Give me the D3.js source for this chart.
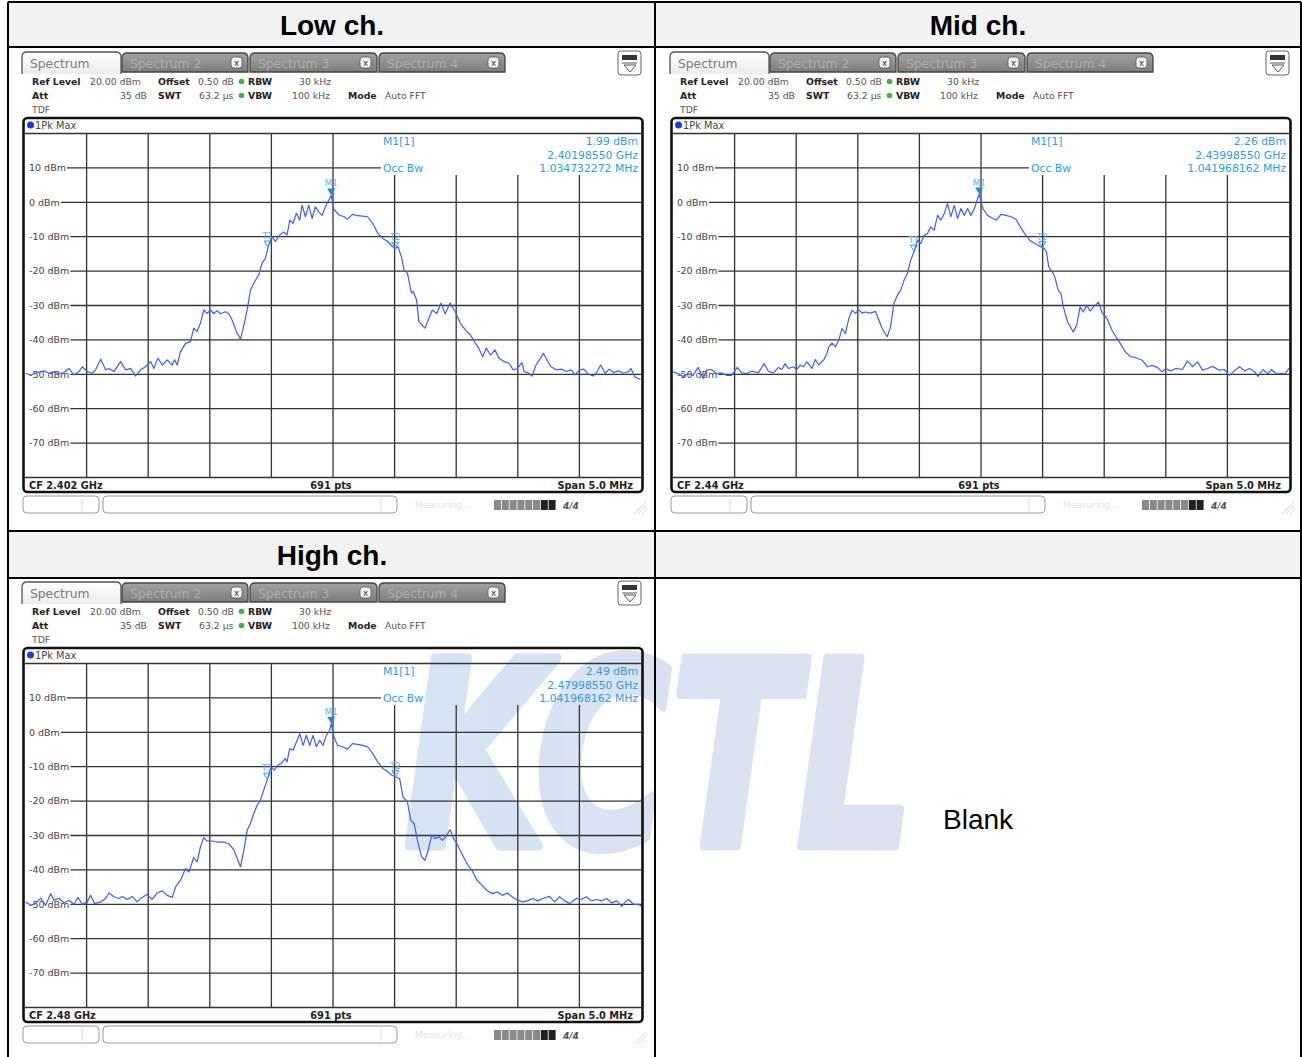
<!DOCTYPE html>
<html>
<head>
<meta charset="utf-8">
<script src="https://cdn.jsdelivr.net/npm/d3@7"></script>
<style>
  html, body { margin: 0; padding: 0; background: #fff; }
  svg { display: block; }
</style>
</head>
<body>
<svg id="chart" width="1302" height="1057"></svg>
<script>
// ---- data ----
var channels = ["Low ch.", "Mid ch.", "High ch."];
var centerLabels = ["CF 2.402 GHz", "CF 2.44 GHz", "CF 2.48 GHz"];
var m1Levels = ["1.99 dBm", "2.26 dBm", "2.49 dBm"];
var m1Freqs = ["2.40198550 GHz", "2.43998550 GHz", "2.47998550 GHz"];
var occBws = ["1.034732272 MHz", "1.041968162 MHz", "1.041968162 MHz"];
// [offset from CF in MHz, level in dBm]
var m1Markers = [[-0.0145, 1.99], [-0.0145, 2.26], [-0.0145, 2.49]];
var t1Markers = [[-0.53, -13.0], [-0.545, -14.2], [-0.535, -13.6]];
var t2Markers = [[0.505, -13.4], [0.497, -13.2], [0.507, -12.9]];
var levelTicks = [10, 0, -10, -20, -30, -40, -50, -60, -70];
var freqDivs = [-2, -1.5, -1, -0.5, 0, 0.5, 1, 1.5, 2];
var tabNames = ["Spectrum", "Spectrum 2", "Spectrum 3", "Spectrum 4"];

var lowTrace = [
  [-2.495,-49.7],[-2.454,-50.2],[-2.400,-49.5],[-2.346,-49.0],[-2.305,-49.7],[-2.265,-49.3],[-2.224,-49.9],
  [-2.184,-49.5],[-2.143,-48.3],[-2.103,-50.2],[-2.062,-49.2],[-2.035,-47.8],[-1.995,-49.2],[-1.954,-49.7],
  [-1.927,-48.7],[-1.886,-45.6],[-1.846,-48.7],[-1.819,-48.3],[-1.778,-49.2],[-1.724,-46.3],[-1.684,-48.7],
  [-1.643,-48.3],[-1.603,-50.5],[-1.562,-48.7],[-1.522,-47.8],[-1.481,-46.3],[-1.454,-48.3],[-1.422,-45.3],
  [-1.386,-47.3],[-1.346,-45.8],[-1.305,-47.3],[-1.286,-45.8],[-1.265,-47.3],[-1.238,-43.4],[-1.197,-41.0],
  [-1.157,-40.5],[-1.130,-36.6],[-1.103,-37.6],[-1.076,-35.1],[-1.049,-31.3],[-1.022,-32.3],[-0.995,-31.3],
  [-0.968,-32.4],[-0.941,-31.5],[-0.914,-32.4],[-0.873,-31.8],[-0.846,-32.4],[-0.819,-34.2],[-0.784,-37.6],
  [-0.751,-39.8],[-0.719,-35.1],[-0.692,-30.3],[-0.670,-25.5],[-0.643,-23.5],[-0.603,-21.1],[-0.576,-17.7],
  [-0.549,-16.3],[-0.522,-12.4],[-0.495,-10.0],[-0.468,-11.4],[-0.432,-9.5],[-0.400,-8.6],[-0.373,-9.5],
  [-0.351,-5.2],[-0.324,-6.1],[-0.297,-3.2],[-0.270,-5.2],[-0.251,-0.8],[-0.224,-4.2],[-0.197,-0.8],
  [-0.170,-4.7],[-0.143,-1.3],[-0.116,-2.8],[-0.089,-3.8],[-0.062,-1.3],[-0.035,0.6],[-0.0145,1.99],
  [0.008,-2.1],[0.049,-3.7],[0.090,-4.2],[0.117,-4.9],[0.158,-3.5],[0.199,-3.9],[0.240,-4.0],[0.281,-4.2],
  [0.322,-6.1],[0.363,-9.0],[0.404,-10.5],[0.445,-11.4],[0.478,-12.7],[0.505,-13.4],[0.527,-12.9],
  [0.555,-15.8],[0.577,-19.7],[0.604,-20.6],[0.637,-26.4],[0.650,-25.9],[0.678,-28.3],[0.697,-34.7],
  [0.746,-36.6],[0.773,-34.2],[0.806,-31.3],[0.842,-32.3],[0.877,-29.3],[0.910,-32.4],[0.951,-29.3],
  [0.992,-31.8],[1.033,-35.1],[1.074,-37.1],[1.115,-38.5],[1.156,-41.0],[1.183,-42.4],[1.216,-44.9],
  [1.243,-42.4],[1.279,-44.4],[1.314,-42.9],[1.347,-45.3],[1.388,-46.3],[1.429,-46.8],[1.462,-48.7],
  [1.497,-48.3],[1.533,-46.6],[1.552,-49.2],[1.579,-49.5],[1.615,-50.5],[1.648,-47.3],[1.675,-45.8],
  [1.708,-43.9],[1.743,-46.3],[1.770,-47.8],[1.811,-48.7],[1.852,-48.5],[1.893,-49.2],[1.934,-48.7],
  [1.962,-50.2],[2.003,-48.7],[2.036,-48.5],[2.071,-49.9],[2.112,-50.5],[2.145,-49.2],[2.172,-47.3],
  [2.208,-49.7],[2.243,-48.5],[2.276,-49.5],[2.317,-49.0],[2.358,-49.7],[2.399,-49.2],[2.418,-48.3],
  [2.454,-50.9],[2.495,-51.5]
];

var midTrace = [
  [-2.500,-49.3],[-2.459,-49.8],[-2.418,-50.6],[-2.378,-49.8],[-2.337,-50.3],[-2.296,-48.0],[-2.255,-51.2],
  [-2.228,-48.8],[-2.188,-48.6],[-2.147,-49.8],[-2.106,-49.6],[-2.065,-50.3],[-2.024,-50.3],[-1.978,-48.0],
  [-1.943,-49.6],[-1.902,-49.8],[-1.861,-49.1],[-1.807,-49.6],[-1.761,-46.9],[-1.726,-49.1],[-1.685,-49.6],
  [-1.644,-48.0],[-1.617,-48.6],[-1.590,-46.9],[-1.563,-48.3],[-1.522,-47.8],[-1.495,-48.6],[-1.467,-47.3],
  [-1.440,-47.8],[-1.413,-46.4],[-1.372,-48.3],[-1.345,-45.7],[-1.318,-47.3],[-1.277,-45.8],[-1.250,-44.0],
  [-1.236,-42.0],[-1.209,-40.9],[-1.182,-42.0],[-1.155,-40.1],[-1.128,-36.7],[-1.101,-38.2],[-1.073,-33.8],
  [-1.046,-31.4],[-1.019,-32.3],[-0.992,-31.2],[-0.965,-32.2],[-0.938,-31.9],[-0.897,-32.2],[-0.856,-31.7],
  [-0.829,-34.3],[-0.802,-36.7],[-0.761,-39.1],[-0.734,-36.2],[-0.707,-29.4],[-0.679,-27.0],[-0.652,-25.6],
  [-0.625,-22.7],[-0.598,-20.7],[-0.571,-16.8],[-0.543,-14.4],[-0.516,-11.0],[-0.489,-12.0],[-0.462,-9.6],
  [-0.435,-9.1],[-0.408,-7.2],[-0.380,-8.1],[-0.353,-3.8],[-0.326,-5.2],[-0.299,-3.3],[-0.272,-0.4],
  [-0.245,-4.2],[-0.217,-0.9],[-0.190,-4.7],[-0.163,-1.8],[-0.136,-3.8],[-0.109,-1.8],[-0.082,-3.8],
  [-0.054,-1.8],[-0.027,1.1],[-0.0145,2.26],[0.014,-1.8],[0.054,-3.8],[0.095,-4.7],[0.123,-5.2],
  [0.163,-3.5],[0.204,-3.8],[0.245,-4.2],[0.286,-5.0],[0.313,-6.7],[0.354,-9.1],[0.395,-11.0],[0.436,-12.0],
  [0.477,-12.8],[0.512,-13.4],[0.531,-14.4],[0.550,-18.8],[0.578,-20.2],[0.599,-21.7],[0.627,-25.6],
  [0.649,-26.5],[0.668,-30.4],[0.703,-34.8],[0.749,-37.7],[0.777,-35.7],[0.804,-30.4],[0.831,-31.9],
  [0.858,-29.9],[0.886,-31.6],[0.913,-30.4],[0.954,-29.0],[0.981,-31.9],[1.022,-33.8],[1.063,-37.2],
  [1.095,-39.1],[1.131,-41.1],[1.172,-43.5],[1.213,-44.9],[1.253,-45.1],[1.308,-45.9],[1.349,-47.8],
  [1.390,-47.4],[1.431,-48.0],[1.471,-49.3],[1.499,-48.3],[1.540,-49.0],[1.580,-48.3],[1.635,-48.6],
  [1.676,-46.1],[1.717,-47.8],[1.757,-46.4],[1.798,-48.8],[1.839,-48.3],[1.880,-47.7],[1.935,-48.8],
  [1.975,-48.6],[2.016,-50.3],[2.057,-49.0],[2.098,-47.8],[2.139,-49.0],[2.180,-48.3],[2.221,-49.3],
  [2.248,-50.6],[2.289,-48.6],[2.330,-49.9],[2.357,-48.6],[2.398,-49.9],[2.439,-49.7],[2.466,-49.9],
  [2.500,-48.3]
];

var highTrace = [
  [-2.495,-49.3],[-2.454,-50.3],[-2.414,-49.8],[-2.373,-48.3],[-2.332,-50.3],[-2.292,-46.9],[-2.265,-48.8],
  [-2.224,-48.3],[-2.184,-49.6],[-2.143,-48.8],[-2.103,-50.0],[-2.070,-48.0],[-2.035,-50.0],[-1.995,-49.3],
  [-1.968,-47.4],[-1.935,-49.8],[-1.886,-49.3],[-1.846,-48.3],[-1.819,-46.7],[-1.778,-47.8],[-1.738,-48.3],
  [-1.711,-47.7],[-1.670,-48.6],[-1.630,-47.7],[-1.589,-49.3],[-1.562,-48.3],[-1.508,-47.1],[-1.468,-48.6],
  [-1.427,-46.7],[-1.386,-46.1],[-1.346,-47.4],[-1.305,-48.0],[-1.278,-45.0],[-1.238,-43.0],[-1.197,-39.6],
  [-1.170,-40.6],[-1.130,-36.4],[-1.103,-37.7],[-1.076,-33.3],[-1.049,-30.6],[-1.022,-31.6],[-0.981,-31.6],
  [-0.941,-31.9],[-0.886,-31.9],[-0.846,-32.4],[-0.805,-34.1],[-0.778,-36.7],[-0.751,-39.1],[-0.724,-34.3],
  [-0.697,-28.5],[-0.670,-26.5],[-0.643,-23.6],[-0.616,-21.2],[-0.589,-19.7],[-0.562,-16.8],[-0.530,-13.4],
  [-0.503,-10.1],[-0.476,-11.0],[-0.449,-9.6],[-0.422,-9.1],[-0.386,-7.6],[-0.373,-8.6],[-0.351,-4.7],
  [-0.324,-5.2],[-0.297,-2.8],[-0.270,-0.4],[-0.243,-3.8],[-0.216,-0.9],[-0.189,-3.8],[-0.162,-0.9],
  [-0.135,-4.2],[-0.108,-2.3],[-0.081,-3.8],[-0.054,-0.9],[-0.027,0.6],[-0.0145,2.49],[0.008,-1.3],
  [0.036,-3.8],[0.077,-4.2],[0.117,-4.9],[0.158,-3.3],[0.199,-3.5],[0.240,-3.8],[0.281,-4.2],[0.322,-6.2],
  [0.363,-8.6],[0.404,-10.5],[0.445,-11.5],[0.478,-12.5],[0.514,-13.0],[0.541,-13.5],[0.568,-18.8],
  [0.604,-20.2],[0.631,-25.6],[0.658,-26.5],[0.691,-32.3],[0.719,-36.2],[0.746,-37.2],[0.773,-34.3],
  [0.801,-29.9],[0.828,-30.9],[0.861,-30.4],[0.888,-31.4],[0.915,-30.4],[0.951,-28.3],[0.978,-30.9],
  [1.005,-32.3],[1.046,-35.3],[1.087,-38.2],[1.128,-40.1],[1.169,-43.0],[1.210,-44.5],[1.251,-46.0],
  [1.292,-46.9],[1.333,-46.4],[1.374,-47.4],[1.415,-46.7],[1.456,-47.9],[1.497,-48.8],[1.538,-49.3],
  [1.579,-49.0],[1.620,-48.3],[1.661,-49.0],[1.702,-48.3],[1.757,-47.7],[1.798,-49.3],[1.839,-47.8],
  [1.880,-49.0],[1.921,-49.8],[1.975,-48.3],[2.016,-48.6],[2.057,-47.8],[2.098,-49.0],[2.139,-48.6],
  [2.180,-49.0],[2.221,-48.3],[2.262,-49.6],[2.303,-49.0],[2.344,-50.6],[2.372,-49.3],[2.399,-48.6],
  [2.440,-50.0],[2.481,-50.0],[2.500,-50.6]
];

var traces = [lowTrace, midTrace, highTrace];

// ---- layout ----
var svg = d3.select("#chart");
var uiFont = "'DejaVu Sans', sans-serif";
var docFont = "'Liberation Sans', Arial, sans-serif";
var panelOffsets = [[0, 0], [648, 0], [0, 530]];
var headerPos = [[332, 35], [978, 35], [332, 565]];
var markerBlue = "#2a9fdc";

var defs = svg.append("defs");

var activeGrad = defs.append("linearGradient").attr("id", "tabActive")
  .attr("x1", 0).attr("y1", 0).attr("x2", 0).attr("y2", 1);
activeGrad.append("stop").attr("offset", "0%").attr("stop-color", "#ffffff");
activeGrad.append("stop").attr("offset", "100%").attr("stop-color", "#ececec");

var idleGrad = defs.append("linearGradient").attr("id", "tabIdle")
  .attr("x1", 0).attr("y1", 0).attr("x2", 0).attr("y2", 1);
idleGrad.append("stop").attr("offset", "0%").attr("stop-color", "#a2a2a2");
idleGrad.append("stop").attr("offset", "100%").attr("stop-color", "#7c7c7c");

var markGrad = defs.append("linearGradient").attr("id", "markGrad")
  .attr("gradientUnits", "userSpaceOnUse")
  .attr("x1", 398).attr("y1", 0).attr("x2", 922).attr("y2", 0);
markGrad.append("stop").attr("offset", "0%").attr("stop-color", "rgb(110,160,214)");
markGrad.append("stop").attr("offset", "100%").attr("stop-color", "rgb(140,150,200)");

defs.append("clipPath").attr("id", "gridClip")
  .append("rect").attr("x", 25).attr("y", 134).attr("width", 616).attr("height", 343);

// header cells
[[2, 47], [531, 578]].forEach(function (r) {
  svg.append("rect")
    .attr("x", 8).attr("y", r[0])
    .attr("width", 1293).attr("height", r[1] - r[0])
    .attr("fill", "#f2f2f2")
})

// watermark sits under everything else
svg.append("text")
  .attr("x", 404).attr("y", 846)
  .attr("font-family", uiFont)
  .attr("font-weight", "bold")
  .attr("font-style", "italic")
  .attr("font-size", 258)
  .attr("textLength", 510)
  .attr("lengthAdjust", "spacingAndGlyphs")
  .attr("fill", "url(#markGrad)")
  .attr("stroke", "url(#markGrad)")
  .attr("stroke-width", 9)
  .attr("stroke-linejoin", "round")
  .attr("opacity", 0.28)
  .text("KCTL")

channels.forEach(function (name, i) {
  svg.append("text")
    .attr("x", headerPos[i][0]).attr("y", headerPos[i][1])
    .attr("text-anchor", "middle")
    .attr("font-family", docFont)
    .attr("font-weight", "bold")
    .attr("font-size", 28)
    .attr("fill", "#000")
    .text(name)
})

svg.append("text")
  .attr("x", 943).attr("y", 829)
  .attr("font-family", docFont)
  .attr("font-size", 28)
  .attr("fill", "#000")
  .text("Blank")

function tabPath(x0, x1, y0, y1, r, closed) {
  var p = "M" + x0 + "," + y1 + " L" + x0 + "," + (y0 + r) +
    " Q" + x0 + "," + y0 + " " + (x0 + r) + "," + y0 +
    " L" + (x1 - r) + "," + y0 +
    " Q" + x1 + "," + y0 + " " + x1 + "," + (y0 + r) +
    " L" + x1 + "," + y1
  return closed ? p + " Z" : p
}

function drawAnalyzer(i) {
  var g = svg.append("g")
    .attr("transform", "translate(" + panelOffsets[i][0] + "," + panelOffsets[i][1] + ")")
    .attr("font-family", uiFont)

  var x = d3.scaleLinear().domain([-2.5, 2.5]).range([25, 641]);
  var y = d3.scaleLinear().domain([-80, 20]).range([477.5, 133.5]);

  // tabs
  var tabX = [[22, 121], [122, 248], [250, 377], [379, 505]];
  tabNames.forEach(function (name, k) {
    var t = tabX[k];
    if (k === 0) {
      g.append("path").attr("d", tabPath(t[0], t[1], 52, 74, 5, false))
        .attr("fill", "url(#tabActive)").attr("stroke", "#555").attr("stroke-width", 1.3)
    } else {
      g.append("path").attr("d", tabPath(t[0], t[1], 53, 72, 5, true))
        .attr("fill", "url(#tabIdle)").attr("stroke", "#444").attr("stroke-width", 1.3)
      g.append("rect")
        .attr("x", t[1] - 17).attr("y", 57).attr("width", 11).attr("height", 11).attr("rx", 3)
        .attr("fill", "#f4f4f4").attr("stroke", "#555").attr("stroke-width", 0.8)
      g.append("text")
        .attr("x", t[1] - 11.5).attr("y", 65.5).attr("text-anchor", "middle")
        .attr("font-size", 8.5).attr("fill", "#333").text("x")
    }
    g.append("text")
      .attr("x", t[0] + 8).attr("y", 67.5)
      .attr("font-size", 12.3)
      .attr("fill", k === 0 ? "#7a7a7a" : "#adadad")
      .text(name)
  })

  // small menu icon top right
  g.append("rect").attr("x", 618).attr("y", 51).attr("width", 23).attr("height", 24).attr("rx", 3)
    .attr("fill", "#fff").attr("stroke", "#666").attr("stroke-width", 1)
  g.append("rect").attr("x", 622).attr("y", 55).attr("width", 15).attr("height", 5)
    .attr("fill", "#333")
  g.append("line").attr("x1", 622).attr("x2", 637).attr("y1", 63).attr("y2", 63)
    .attr("stroke", "#555").attr("stroke-width", 1)
  g.append("path").attr("d", "M624,65 L636,65 L630,72 Z")
    .attr("fill", "none").attr("stroke", "#555").attr("stroke-width", 1)

  // settings lines
  var info = [
    [32, 85, "Ref Level", true, "start"], [90, 85, "20.00 dBm", false, "start"],
    [158, 85, "Offset", true, "start"], [198, 85, "0.50 dB", false, "start"],
    [248, 85, "RBW", true, "start"], [299, 85, "30 kHz", false, "start"],
    [32, 99, "Att", true, "start"], [147, 99, "35 dB", false, "end"],
    [158, 99, "SWT", true, "start"], [199, 99, "63.2 \u00b5s", false, "start"],
    [248, 99, "VBW", true, "start"], [292, 99, "100 kHz", false, "start"],
    [348, 99, "Mode", true, "start"], [385, 99, "Auto FFT", false, "start"],
    [32, 113, "TDF", false, "start"]
  ];
  info.forEach(function (d) {
    g.append("text")
      .attr("x", d[0]).attr("y", d[1])
      .attr("text-anchor", d[4])
      .attr("font-size", 9.3)
      .attr("font-weight", d[3] ? "bold" : "normal")
      .attr("fill", d[3] ? "#222" : "#555")
      .text(d[2])
  });
  [81.5, 95.5].forEach(function (cy) {
    g.append("circle").attr("cx", 241.5).attr("cy", cy).attr("r", 2.8).attr("fill", "#3cb44a")
  })

  // trace window frame
  g.append("rect").attr("x", 23.5).attr("y", 118).attr("width", 619).attr("height", 374).attr("rx", 4)
    .attr("fill", "none").attr("stroke", "#111").attr("stroke-width", 2.6)
  g.append("circle").attr("cx", 30.5).attr("cy", 125).attr("r", 3.5).attr("fill", "#1a3ce6")
  g.append("text").attr("x", 35).attr("y", 128.5).attr("font-size", 9.8).attr("fill", "#444").text("1Pk Max")

  // grid
  var gridColor = "#333";
  [20, -80].forEach(function (v) {
    g.append("line").attr("x1", 25).attr("x2", 641).attr("y1", y(v)).attr("y2", y(v))
      .attr("stroke", gridColor).attr("stroke-width", 1.3)
  })
  freqDivs.forEach(function (f) {
    var top = x(f) > 381 ? 175 : y(20)
    g.append("line").attr("x1", x(f)).attr("x2", x(f)).attr("y1", top).attr("y2", y(-80))
      .attr("stroke", gridColor).attr("stroke-width", 1.3)
  })
  levelTicks.forEach(function (v) {
    var t = g.append("text")
      .attr("x", 29).attr("y", y(v) + 3.3)
      .attr("font-size", 9.5).attr("fill", "#444")
      .text(v + " dBm")
    var w = t.node().getComputedTextLength()
    g.append("line")
      .attr("x1", 29 + w + 1).attr("x2", v === 10 ? 381 : 641)
      .attr("y1", y(v)).attr("y2", y(v))
      .attr("stroke", gridColor).attr("stroke-width", 1.3)
  })

  // trace
  var line = d3.line()
    .x(function (d) { return x(d[0]) })
    .y(function (d) { return y(d[1]) })
  g.append("path")
    .datum(traces[i])
    .attr("clip-path", "url(#gridClip)")
    .attr("d", line)
    .attr("fill", "none")
    .attr("stroke", "#3f5cff")
    .attr("stroke-width", 1.2)
    .attr("stroke-linejoin", "round")

  // markers
  var m = m1Markers[i];
  var mx = x(m[0]), my = y(m[1]);
  g.append("path").attr("d", "M" + (mx - 4) + "," + (my - 7) + " L" + (mx + 4) + "," + (my - 7) + " L" + mx + "," + my + " Z")
    .attr("fill", "#1f8ad6")
  g.append("text").attr("x", mx).attr("y", my - 9).attr("text-anchor", "middle")
    .attr("font-size", 8.5).attr("fill", "#5ab4e8").text("M1");
  [[t1Markers[i], "T1"], [t2Markers[i], "T2"]].forEach(function (d) {
    var tx = x(d[0][0]), ty = y(d[0][1]);
    g.append("path").attr("d", "M" + (tx - 3.5) + "," + (ty - 6) + " L" + (tx + 3.5) + "," + (ty - 6) + " L" + tx + "," + ty + " Z")
      .attr("fill", "none").attr("stroke", "#2a9fdc").attr("stroke-width", 1)
    g.append("text").attr("x", tx).attr("y", ty - 8).attr("text-anchor", "middle")
      .attr("font-size", 8.5).attr("fill", "#5ab4e8").text(d[1])
  })

  // marker readout
  var readout = [
    [383, 145, "M1[1]", "start"], [638, 145, m1Levels[i], "end"],
    [638, 158.5, m1Freqs[i], "end"],
    [383, 172, "Occ Bw", "start"], [638, 172, occBws[i], "end"]
  ];
  readout.forEach(function (d) {
    g.append("text").attr("x", d[0]).attr("y", d[1]).attr("text-anchor", d[3])
      .attr("font-size", 10.8).attr("fill", markerBlue).text(d[2])
  })

  // status row under the grid
  var status = [[29, centerLabels[i], "start"], [331, "691 pts", "middle"], [633, "Span 5.0 MHz", "end"]];
  status.forEach(function (d) {
    g.append("text").attr("x", d[0]).attr("y", 488.5).attr("text-anchor", d[2])
      .attr("font-size", 9.8).attr("font-weight", "bold").attr("fill", "#222").text(d[1])
  })

  // bottom bar of the instrument screen
  g.append("rect").attr("x", 23).attr("y", 496).attr("width", 76).attr("height", 17).attr("rx", 4)
    .attr("fill", "#fff").attr("stroke", "#999").attr("stroke-width", 1)
  g.append("line").attr("x1", 82).attr("x2", 82).attr("y1", 498).attr("y2", 511).attr("stroke", "#ddd")
  g.append("rect").attr("x", 103).attr("y", 496).attr("width", 294).attr("height", 17).attr("rx", 4)
    .attr("fill", "#fff").attr("stroke", "#999").attr("stroke-width", 1)
  g.append("line").attr("x1", 381).attr("x2", 381).attr("y1", 498).attr("y2", 511).attr("stroke", "#ddd")
  g.append("text").attr("x", 415).attr("y", 508).attr("font-size", 9).attr("fill", "#e4e4e4").text("Measuring...")
  d3.range(8).forEach(function (k) {
    g.append("rect").attr("x", 494 + k * 7.8).attr("y", 500).attr("width", 7).attr("height", 10)
      .attr("fill", k >= 6 ? "#222" : "#8a8a8a")
  })
  g.append("text").attr("x", 563).attr("y", 509).attr("font-size", 9).attr("font-weight", "bold")
    .attr("font-style", "italic").attr("fill", "#555").text("4/4")
  d3.range(3).forEach(function (k) {
    g.append("line").attr("x1", 634 + k * 4).attr("y1", 514).attr("x2", 646).attr("y2", 502 + k * 4)
      .attr("stroke", "#d0d0d0").attr("stroke-width", 0.8)
  })
}

[0, 1, 2].forEach(drawAnalyzer)

// table rules
var rules = [
  [8, 2, 1301, 2], [8, 47, 1301, 47], [8, 531, 1301, 531], [8, 578, 1301, 578],
  [8, 2, 8, 1057], [655, 2, 655, 1057], [1301, 2, 1301, 1057]
];
rules.forEach(function (r) {
  svg.append("line")
    .attr("x1", r[0]).attr("y1", r[1]).attr("x2", r[2]).attr("y2", r[3])
    .attr("stroke", "#000").attr("stroke-width", 2)
})
</script>
</body>
</html>
